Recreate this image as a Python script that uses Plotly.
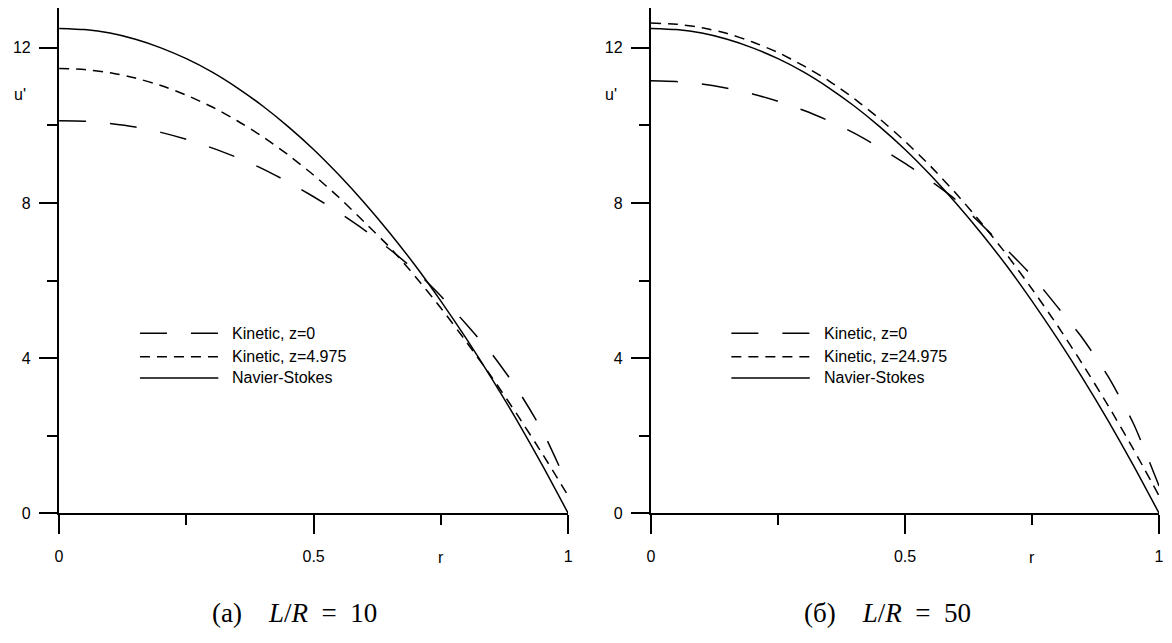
import plotly.graph_objects as go

# radial coordinate r (shared by every profile)
r = [0.00, 0.05, 0.10, 0.15, 0.20, 0.25, 0.30, 0.35, 0.40, 0.45, 0.50,
     0.55, 0.60, 0.65, 0.70, 0.75, 0.80, 0.85, 0.90, 0.95, 1.00]

# L/R = 10
ns_10 = [12.50, 12.47, 12.38, 12.22, 12.00, 11.72, 11.38, 10.97, 10.50, 9.97, 9.38,
         8.72, 8.00, 7.22, 6.38, 5.47, 4.50, 3.47, 2.38, 1.22, 0.00]
kin_z0_10 = [10.12, 10.11, 10.05, 9.96, 9.82, 9.64, 9.42, 9.17, 8.88, 8.54, 8.16,
             7.75, 7.30, 6.80, 6.25, 5.60, 4.87, 4.11, 3.20, 2.11, 0.70]
kin_zl_10 = [11.47, 11.44, 11.36, 11.22, 11.03, 10.78, 10.48, 10.12, 9.71, 9.24, 8.72,
             8.14, 7.50, 6.85, 6.10, 5.29, 4.42, 3.51, 2.54, 1.52, 0.45]

# L/R = 50
ns_50 = [12.50, 12.47, 12.38, 12.22, 12.00, 11.72, 11.38, 10.97, 10.50, 9.97, 9.38,
         8.72, 8.00, 7.22, 6.38, 5.47, 4.50, 3.47, 2.38, 1.22, 0.00]
kin_z0_50 = [11.15, 11.13, 11.07, 10.96, 10.81, 10.62, 10.39, 10.12, 9.80, 9.43, 9.02,
             8.57, 8.08, 7.45, 6.80, 6.12, 5.32, 4.50, 3.52, 2.30, 0.70]
kin_zl_50 = [12.64, 12.61, 12.52, 12.37, 12.15, 11.88, 11.54, 11.15, 10.69, 10.17, 9.59,
             8.95, 8.25, 7.49, 6.67, 5.78, 4.84, 3.83, 2.77, 1.64, 0.45]

legend_10 = ["Kinetic, z=0", "Kinetic, z=4.975", "Navier-Stokes"]
legend_50 = ["Kinetic, z=0", "Kinetic, z=24.975", "Navier-Stokes"]
captions = ["(a)&nbsp;&nbsp;&nbsp;&nbsp;<i>L</i>/<i>R</i>&nbsp;&nbsp;=&nbsp;&nbsp;10",
            "(б)&nbsp;&nbsp;&nbsp;&nbsp;<i>L</i>/<i>R</i>&nbsp;&nbsp;=&nbsp;&nbsp;50"]

y_ticks = [0, 4, 8, 12]
y_minor = [2, 6, 10]
x_ticks = [0, 0.5, 1]
x_ticktext = ["0", "0.5", "1"]
x_minor = [0.25, 0.75]

W, H = 1172, 643
LONG = "27px,24px"
SHORT = "10px,7px"
SANS = "Liberation Sans, Arial, sans-serif"
SERIF = "Liberation Serif, Times New Roman, serif"


def px_x(p):
    return p / W


def px_y(p):
    return 1 - p / H


fig = go.Figure()

panels = [
    ("x", "y", kin_z0_10, kin_zl_10, ns_10),
    ("x2", "y2", kin_z0_50, kin_zl_50, ns_50),
]
for xa, ya, k0, kl, ns in panels:
    for vals, dash in ((k0, LONG), (kl, SHORT), (ns, "solid")):
        fig.add_trace(go.Scatter(
            x=r, y=vals, xaxis=xa, yaxis=ya, mode="lines",
            line=dict(color="black", width=1.5, dash=dash, shape="spline", smoothing=0.6),
            showlegend=False, hoverinfo="skip"))

axis_common = dict(
    showline=True, linecolor="black", linewidth=2.4, showgrid=False, zeroline=False,
    ticks="outside", tickwidth=2.4, tickcolor="black",
    tickfont=dict(family=SANS, size=16, color="black"),
)

xdom = [[55.5 / W, 568.5 / W], [652 / W, 1164 / W]]
ydom = [px_y(520.5), px_y(8)]

for i, (xa, ya) in enumerate((("xaxis", "yaxis"), ("xaxis2", "yaxis2"))):
    fig.layout[xa] = dict(
        axis_common, domain=xdom[i], range=[0, 1], anchor="y" if i == 0 else "y2",
        tickvals=x_ticks, ticktext=x_ticktext, ticklen=19, ticklabelstandoff=8,
        minor=dict(tickvals=x_minor, ticklen=10, tickwidth=2.4, tickcolor="black", ticks="outside"),
    )
    fig.layout[ya] = dict(
        axis_common, domain=ydom, range=[0, 13.03], anchor="x" if i == 0 else "x2",
        tickvals=y_ticks, ticklen=18, ticklabelstandoff=5,
        minor=dict(tickvals=y_minor, ticklen=10, tickwidth=2.4, tickcolor="black", ticks="outside"),
    )

# axis labels
for xa, ya, ux in (("x", "y", 16), ("x2", "y2", 612)):
    fig.add_annotation(x=px_x(ux), xref="paper", y=10.8, yref=ya, text="u'",
                       showarrow=False, xanchor="center", yanchor="middle",
                       font=dict(family=SANS, size=16, color="black"))
    fig.add_annotation(x=0.75, xref=xa, y=px_y(565), yref="paper", text="r",
                       showarrow=False, xanchor="center", yanchor="middle",
                       font=dict(family=SANS, size=16, color="black"))

# hand-drawn legends
rows_y = [338, 361.7, 383.3]
for (x0, x1, tx), labels in (((137, 216, 228), legend_10), ((733, 812, 824), legend_50)):
    for yy, dash, label in zip(rows_y, (LONG, SHORT, "solid"), labels):
        fig.add_shape(type="line", xref="paper", yref="paper",
                      x0=px_x(x0), x1=px_x(x1), y0=px_y(yy), y1=px_y(yy),
                      line=dict(color="black", width=1.5, dash=dash))
        fig.add_annotation(x=px_x(tx), y=px_y(yy), xref="paper", yref="paper", text=label,
                           showarrow=False, xanchor="left", yanchor="middle",
                           font=dict(family=SANS, size=16, color="black"))

# sub-figure captions
for cx, cap in zip((293, 890), captions):
    fig.add_annotation(x=px_x(cx), y=px_y(622), xref="paper", yref="paper", text=cap,
                       showarrow=False, xanchor="center", yanchor="middle",
                       font=dict(family=SERIF, size=27, color="black"))

fig.update_layout(
    width=W, height=H, margin=dict(l=0, r=0, t=0, b=0),
    paper_bgcolor="white", plot_bgcolor="white", showlegend=False,
)

fig.write_html("out.html")
